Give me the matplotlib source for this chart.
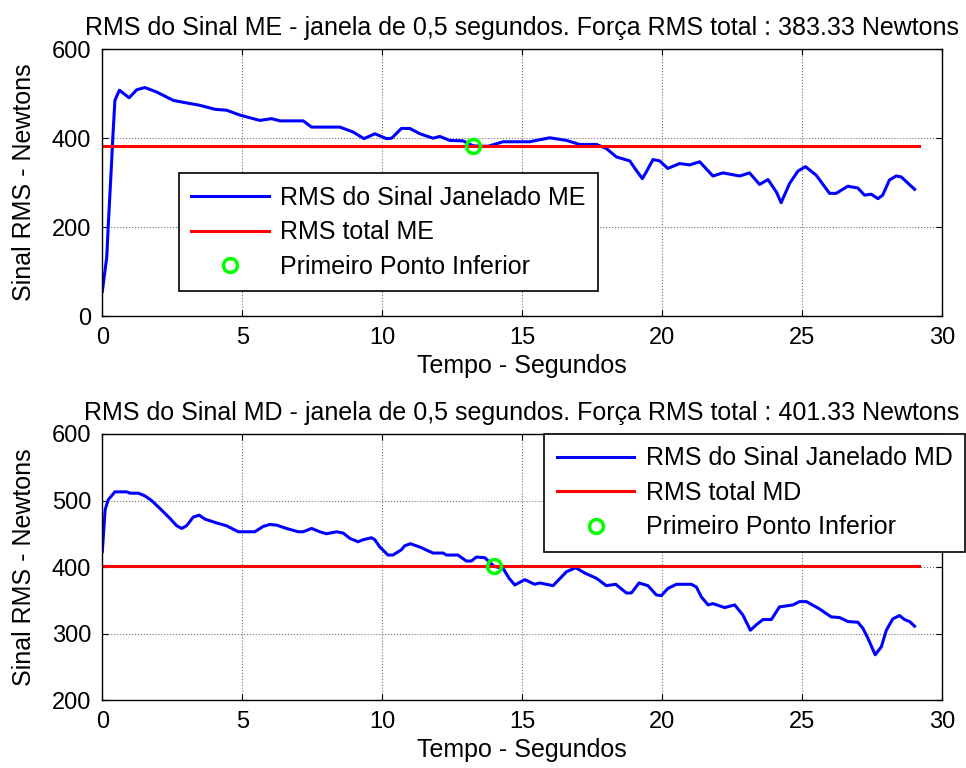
import matplotlib.pyplot as plt

plt.rcParams['font.family'] = ['Liberation Sans', 'DejaVu Sans']
plt.rcParams['font.size'] = 18

# ME signal (left)
t_me = [0, 0.16, 0.21, 0.33, 0.37, 0.45, 0.61, 0.96, 1.23, 1.52, 1.94, 2.54, 3.13, 3.49,
        4.03, 4.44, 4.92, 5.63, 6.05, 6.35, 7.18, 7.48, 8.49, 8.96, 9.35, 9.74, 10.16,
        10.34, 10.69, 10.99, 11.35, 11.82, 12.06, 12.42, 12.89, 13.25, 13.49, 13.79,
        14.32, 15.27, 15.99, 16.59, 17.06, 17.66, 18.01, 18.37, 18.85, 19.08, 19.3,
        19.44, 19.68, 19.92, 20.21, 20.63, 20.99, 21.35, 21.82, 22.18, 22.78, 23.13,
        23.49, 23.79, 24.09, 24.26, 24.56, 24.86, 25.13, 25.51, 25.99, 26.23, 26.64,
        27.0, 27.24, 27.48, 27.72, 27.89, 28.13, 28.37, 28.55, 29.03]
rms_me = [55, 133, 200, 343, 395, 485, 508, 491, 509, 514, 504, 485, 478, 474,
          465, 463, 452, 440, 444, 439, 439, 425, 425, 414, 399, 410, 399,
          400, 422, 422, 410, 400, 404, 395, 394, 383, 382, 382,
          392, 392, 401, 395, 386, 386, 377, 358, 349, 328, 309,
          324, 352, 349, 332, 343, 340, 347, 315, 322, 315, 322,
          296, 307, 279, 255, 298, 326, 336, 317, 276, 276, 292,
          288, 272, 274, 264, 272, 306, 315, 313, 285]
total_me = 383.33
first_me = (13.25, 383.33)

# MD signal (right)
t_md = [0, 0.1, 0.21, 0.45, 0.87, 1.0, 1.29, 1.52, 1.76, 2.06, 2.42, 2.66, 2.84, 3.01,
        3.25, 3.46, 3.67, 4.03, 4.44, 4.86, 5.45, 5.75, 5.99, 6.23, 6.58, 7.0, 7.18,
        7.48, 7.77, 8.01, 8.37, 8.61, 8.85, 9.14, 9.32, 9.62, 9.74, 9.92, 10.21, 10.39,
        10.69, 10.81, 11.01, 11.35, 11.82, 12.18, 12.3, 12.71, 13.01, 13.19, 13.37,
        13.67, 14.0, 14.32, 14.54, 14.74, 15.1, 15.45, 15.63, 16.11, 16.59, 16.92,
        17.24, 17.66, 18.01, 18.35, 18.73, 18.91, 19.18, 19.5, 19.8, 19.98, 20.22,
        20.52, 21.05, 21.23, 21.41, 21.65, 21.82, 22.24, 22.6, 22.89, 23.16, 23.37,
        23.61, 23.91, 24.2, 24.68, 24.92, 25.16, 25.63, 26.05, 26.35, 26.65, 27.0,
        27.18, 27.36, 27.62, 27.84, 28.02, 28.25, 28.49, 28.67, 28.85, 29.03]
rms_md = [423, 486, 501, 513, 513, 511, 511, 507, 500, 488, 473, 462, 458, 462,
          475, 478, 472, 467, 462, 453, 453, 461, 464, 463, 458, 453, 453,
          458, 453, 450, 453, 451, 443, 438, 441, 444, 441, 430, 418, 418,
          426, 432, 435, 430, 421, 421, 418, 418, 409, 409, 415,
          414, 401, 398, 383, 373, 381, 374, 376, 372, 393, 399,
          391, 383, 372, 374, 361, 361, 376, 372, 358, 357, 368,
          374, 374, 370, 355, 343, 345, 339, 343, 328, 305, 313,
          321, 321, 340, 343, 348, 348, 337, 325, 324, 318, 317,
          308, 293, 268, 280, 305, 322, 327, 321, 318, 311]
total_md = 401.33
first_md = (14.0, 401.33)

t_end = 29.2

fig = plt.figure(figsize=(9.66, 7.68), dpi=100)
ax1 = fig.add_axes([0.1059, 0.5885, 0.869, 0.3473])
ax2 = fig.add_axes([0.1059, 0.0885, 0.869, 0.3464])


def draw(ax, t, rms, total, first, tag, ylim, yticks, leg_anchor):
    ax.plot(t, rms, color=(0, 0, 1), lw=2.2, label='RMS do Sinal Janelado ' + tag)
    ax.plot([0, t_end], [total, total], color=(1, 0, 0), lw=2.2, label='RMS total ' + tag)
    ax.plot([first[0]], [first[1]], 'o', mfc='none', mec=(0, 1, 0), ms=10, mew=2.5,
            label='Primeiro Ponto Inferior')
    ax.set_xlim(0, 30)
    ax.set_ylim(*ylim)
    ax.set_xticks(range(0, 31, 5))
    ax.set_yticks(yticks)
    ax.grid(True, color='0.45', ls=':', lw=0.8)
    ax.tick_params(direction='in', top=True, right=True, length=4, pad=8, labelsize=17)
    for s in ax.spines.values():
        s.set_linewidth(1)
    ax.set_title('RMS do Sinal %s - janela de 0,5 segundos. Força RMS total : %.2f Newtons'
                 % (tag, total), fontsize=18, pad=10)
    ax.set_xlabel('Tempo - Segundos', labelpad=3.5)
    ax.set_ylabel('Sinal RMS - Newtons', labelpad=11)
    leg = ax.legend(loc='upper left', bbox_to_anchor=leg_anchor, borderaxespad=0,
                    fancybox=False, edgecolor='black', framealpha=1,
                    handlelength=3.1, handletextpad=0.45, labelspacing=0.42,
                    borderpad=0.5, fontsize=18)
    leg.get_frame().set_linewidth(1.2)


draw(ax1, t_me, rms_me, total_me, first_me, 'ME', (0, 600), [0, 200, 400, 600], (0.091, 0.535))
draw(ax2, t_md, rms_md, total_md, first_md, 'MD', (200, 600), [200, 300, 400, 500, 600], (0.5266, 1.0))

fig.savefig('out.png', dpi=100)
